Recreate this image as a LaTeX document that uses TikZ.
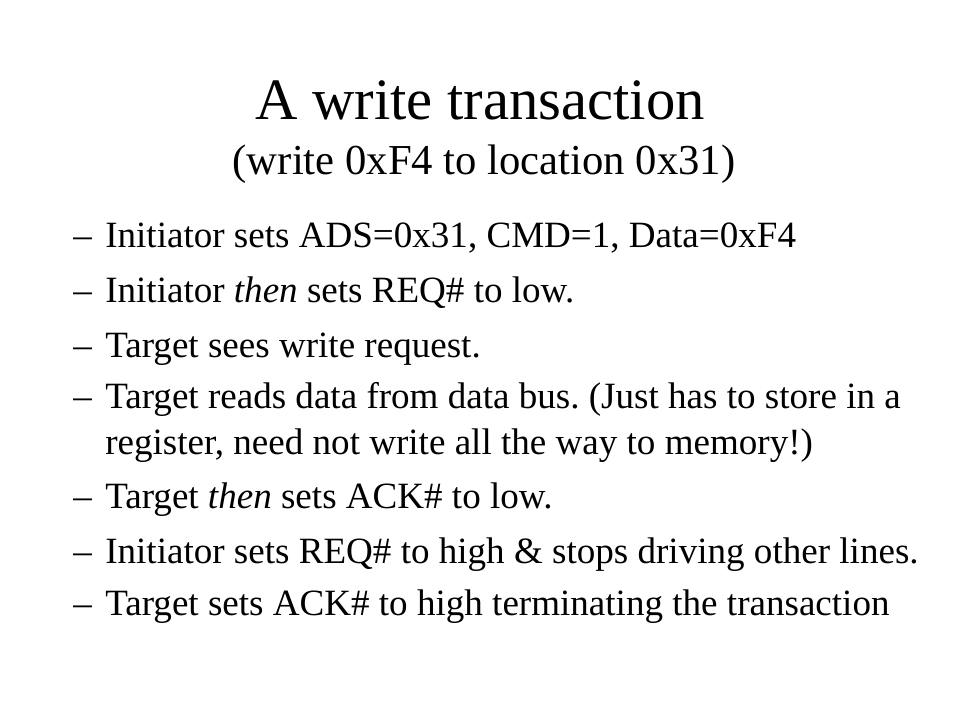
\documentclass[tikz,border=0pt]{standalone}
\usepackage{fontspec}
\setmainfont{Liberation Serif}
\frenchspacing
\begin{document}
\begin{tikzpicture}[x=0.75pt,y=-0.75pt,
  titletext/.style={anchor=base,inner sep=0pt,font=\fontsize{44}{50}\selectfont},
  subtext/.style={anchor=base,inner sep=0pt,font=\fontsize{32}{38}\selectfont},
  dashmark/.style={anchor=base west,inner sep=0pt,font=\fontsize{27.8}{34}\selectfont},
  bullettext/.style={anchor=base west,inner sep=0pt,font=\fontsize{27.8}{34}\selectfont\frenchspacing}]
\useasboundingbox[fill=white] (0,0) rectangle (960,720);
\node[titletext] (title) at (480,120) {A write transaction};
\node[subtext] (sub) at (484,175) {(write 0xF4 to location 0x31)};
\node[dashmark] (d1) at (73,248) {–};
\node[bullettext] (b1) at (105,248) {Initiator sets ADS=0x31, CMD=1, Data=0xF4};
\node[dashmark] (d2) at (73,302) {–};
\node[bullettext] (b2) at (105,302) {Initiator \textit{then} sets REQ\# to low.};
\node[dashmark] (d3) at (73,357) {–};
\node[bullettext] (b3) at (105,357) {Target sees write request.};
\node[dashmark] (d4) at (73,408) {–};
\node[bullettext] (b4) at (105,408) {Target reads data from data bus. (Just has to store in a};
\node[bullettext] (b4b) at (105,454) {register, need not write all the way to memory!)};
\node[dashmark] (d5) at (73,508) {–};
\node[bullettext] (b5) at (105,508) {Target \textit{then} sets ACK\# to low.};
\node[dashmark] (d6) at (73,563) {–};
\node[bullettext] (b6) at (105,563) {Initiator sets REQ\# to high \& stops driving other lines.};
\node[dashmark] (d7) at (73,615) {–};
\node[bullettext] (b7) at (105,615) {Target sets ACK\# to high terminating the transaction};
\end{tikzpicture}
\end{document}
